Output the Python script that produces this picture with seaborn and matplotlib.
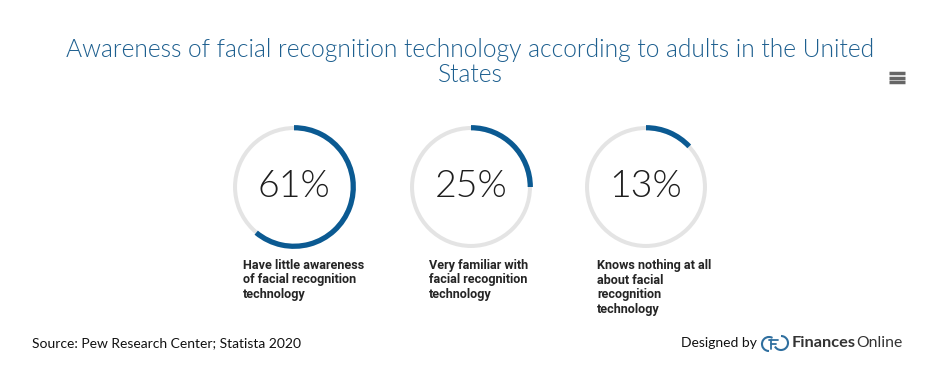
import matplotlib
matplotlib.use("Agg")
import matplotlib.pyplot as plt
import seaborn as sns
from matplotlib.patches import Arc

# data
shares = [61, 25, 13]
share_labels = ["61%", "25%", "13%"]
descriptions = [
    "Have little awareness\nof facial recognition\ntechnology",
    "Very familiar with\nfacial recognition\ntechnology",
    "Knows nothing at all\nabout facial\nrecognition\ntechnology",
]
title = "Awareness of facial recognition technology according to adults in the United\nStates"
source = "Source: Pew Research Center; Statista 2020"

sns.set_style("white")
plt.rcParams["font.family"] = ["Lato", "DejaVu Sans"]

W, H = 950, 381
fig = plt.figure(figsize=(W / 100, H / 100), dpi=100)

ring_blue = "#0b5a92"
ring_gray = "#e4e4e4"
centers_x = [294, 471, 646]
label_x = [243, 429, 597]
center_y = 187
box = 130

for val, txt, desc, cx, lx in zip(shares, share_labels, descriptions, centers_x, label_x):
    ax = fig.add_axes([(cx - box / 2) / W, 1 - (center_y + box / 2) / H, box / W, box / H])
    ax.pie([100], colors=[ring_gray], radius=0.985, startangle=90,
           wedgeprops=dict(width=0.065, edgecolor="none"))
    ax.pie([val, 100 - val], colors=[ring_blue, "none"], radius=1.0, startangle=90,
           counterclock=False, wedgeprops=dict(width=0.085, edgecolor="none"))
    ax.set_xlim(-1.05, 1.05)
    ax.set_ylim(-1.05, 1.05)
    ax.set_aspect("equal")
    ax.axis("off")
    ax.text(0, 0.0, txt, ha="center", va="center", fontsize=27, fontweight=300,
            color="#1e1e1e")
    fig.text(lx / W, 1 - 259 / H, desc, ha="left", va="top", fontsize=9.1,
             fontweight="bold", family=["Roboto", "DejaVu Sans"], color="#252525",
             linespacing=1.15)

fig.text(470 / W, 1 - 38 / H, title, ha="center", va="top", fontsize=17.7,
         fontweight=300, color="#1d5f8f", linespacing=1.05)

fig.text(32 / W, 1 - 343 / H, source, ha="left", va="center", fontsize=10, color="#111111")
fig.text(681 / W, 1 - 343 / H, "Designed by", ha="left", va="center", fontsize=10,
         color="#111111")
t1 = fig.text(792 / W, 1 - 343 / H, "Finances", ha="left", va="center", fontsize=11.8,
              fontweight="bold", color="#333333")
fig.canvas.draw()
x_end = t1.get_window_extent().x1
fig.text(x_end / W, 1 - 343 / H, "Online", ha="left", va="center", fontsize=11.3,
         color="#333333")

# logo and menu icon in pixel coordinates
deco = fig.add_axes([0, 0, 1, 1], zorder=-1)
deco.set_xlim(0, W)
deco.set_ylim(H, 0)
deco.axis("off")
logo = "#2f6f9f"
deco.add_patch(Arc((769, 344), 14, 14, theta1=90, theta2=300, lw=1.5, color=logo))
deco.add_patch(Arc((781, 343), 14, 14, theta1=-90, theta2=150, lw=1.5, color=logo))
deco.plot([769, 778], [340, 340], color=logo, lw=1.3)
deco.plot([771, 771], [340, 349], color=logo, lw=1.3)
deco.plot([771, 776], [344, 344], color=logo, lw=1.3)
for y in [73, 77.5, 82]:
    deco.plot([889, 905], [y, y], color="#666666", lw=2.5, solid_capstyle="butt")

fig.savefig("out.png", dpi=100)
